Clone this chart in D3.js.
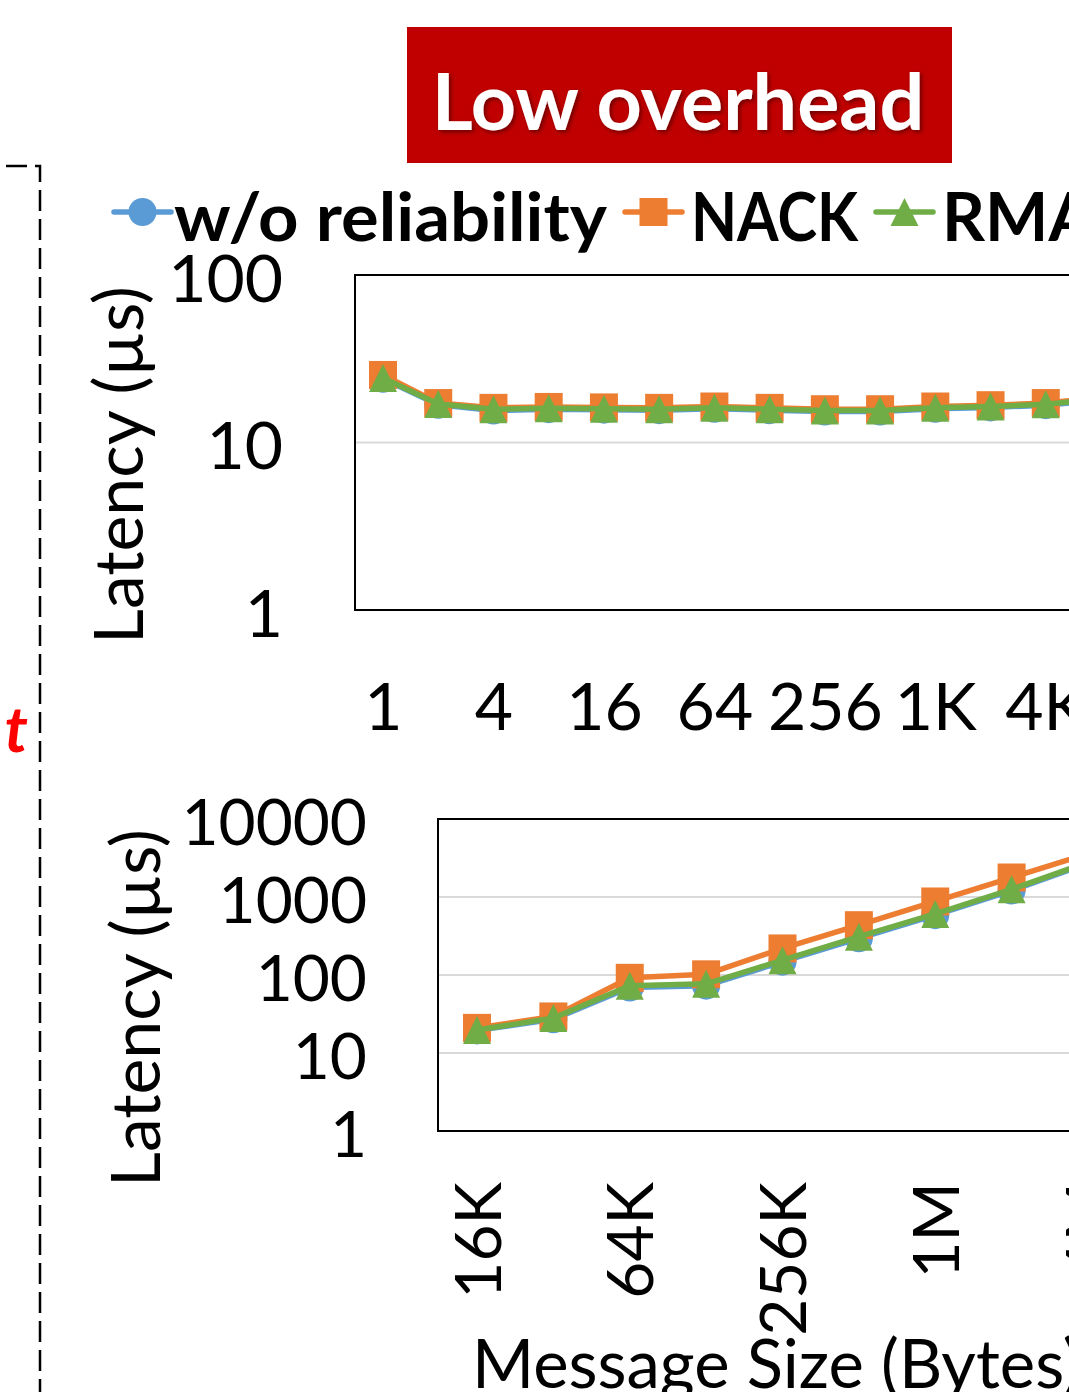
<!DOCTYPE html>
<html>
<head>
<meta charset="utf-8">
<script src="https://cdn.jsdelivr.net/npm/d3@7"></script>
<style>
  body { margin: 0; overflow: hidden; background: #fff; }
  svg { display: block; }
  text { font-family: Lato, "Open Sans", sans-serif; }
</style>
</head>
<body>
<svg id="chart" width="1069" height="1392"></svg>
<script>
// ---- data ----
const seriesNames = ["w/o reliability", "NACK", "RMA"];
const seriesColors = ["#5B9BD5", "#ED7D31", "#70AD47"];

// small messages (top panel)
const smallSizes = ["1", "2", "4", "8", "16", "32", "64", "128", "256", "512", "1K", "2K", "4K", "8K"];
const smallNoRel = [24.0, 16.8, 15.5, 15.8, 15.7, 15.6, 15.9, 15.6, 15.3, 15.3, 15.9, 16.2, 16.7, 18.0];
const smallNack  = [25.3, 17.2, 16.1, 16.3, 16.2, 16.1, 16.4, 16.1, 15.8, 15.8, 16.4, 16.7, 17.2, 18.6];
const smallRma   = [24.3, 17.0, 15.8, 16.0, 15.9, 15.8, 16.1, 15.8, 15.5, 15.5, 16.1, 16.4, 16.9, 18.3];
const smallTicks = [1, 10, 100];

// large messages (bottom panel)
const largeSizes = ["16K", "32K", "64K", "128K", "256K", "512K", "1M", "2M", "4M"];
const largeNoRel = [19.5, 27, 69, 73, 148, 295, 585, 1210, 2700];
const largeNack  = [21, 29.4, 92, 102, 219, 435, 876, 1778, 3600];
const largeRma   = [19.7, 28, 73, 77, 155, 310, 606, 1256, 2790];
const largeTicks = [1, 10, 100, 1000, 10000];

const svg = d3.select("#chart");

// drop shadow for the title text
const defs = svg.append("defs");
defs.append("filter").attr("id", "shadow")
    .attr("x", "-10%").attr("y", "-10%").attr("width", "120%").attr("height", "130%")
  .append("feDropShadow")
    .attr("dx", 2).attr("dy", 2).attr("stdDeviation", 2)
    .attr("flood-color", "#000").attr("flood-opacity", 0.45);

// dashed frame on the left
svg.append("path")
    .attr("d", "M-200,166 L40,166 L40,1420")
    .attr("fill", "none")
    .attr("stroke", "#000")
    .attr("stroke-width", 2.5)
    .attr("stroke-dasharray", "21,8")
    .attr("stroke-dashoffset", 26);

svg.append("text")
    .attr("x", 28).attr("y", 752)
    .attr("text-anchor", "end")
    .attr("fill", "#ff0000")
    .attr("font-size", 64)
    .attr("font-weight", "bold")
    .attr("font-style", "italic")
    .text("t");

// title box
svg.append("rect")
    .attr("x", 407).attr("y", 27).attr("width", 545).attr("height", 136)
    .attr("fill", "#C00000");
svg.append("text")
    .attr("x", 678).attr("y", 130)
    .attr("text-anchor", "middle")
    .attr("fill", "#fff")
    .attr("font-size", 79)
    .attr("font-weight", "bold")
    .attr("filter", "url(#shadow)")
    .text("Low overhead");

// legend
const legendX = [114, 625, 876];
const legendTextW = [433, 167, 160];
const legendY = 212;

function marker(sel, kind, color) {
  if (kind === 0) {
    sel.append("circle").attr("r", 14).attr("fill", color);
  } else if (kind === 1) {
    sel.append("rect").attr("x", -14).attr("y", -14).attr("width", 28).attr("height", 28).attr("fill", color);
  } else {
    sel.append("path").attr("d", "M0,-14L14,14L-14,14Z").attr("fill", color);
  }
}

seriesNames.forEach(function (name, i) {
  const g = svg.append("g").attr("transform", "translate(" + legendX[i] + "," + legendY + ")");
  g.append("line")
      .attr("x1", 0).attr("x2", 57)
      .attr("stroke", seriesColors[i])
      .attr("stroke-width", 5.5)
      .attr("stroke-linecap", "round");
  marker(g.append("g").attr("transform", "translate(28.5,0)"), i, seriesColors[i]);
  const t = g.append("text")
      .attr("x", i === 0 ? 60 : 66).attr("y", 29)
      .attr("font-size", 67)
      .attr("font-weight", "bold")
      .attr("fill", "#000")
      .text(name);
  if (i < 2) t.attr("textLength", legendTextW[i]).attr("lengthAdjust", "spacingAndGlyphs");
});

function drawPanel(cfg) {
  const g = svg.append("g");
  const x = d3.scalePoint().domain(cfg.sizes).range(cfg.xRange);
  const y = d3.scaleLog().domain(cfg.yDomain).range([cfg.bottom, cfg.top]);

  // gridlines
  g.append("g").selectAll("line")
    .data(cfg.ticks.filter(t => t > cfg.yDomain[0] && t < cfg.yDomain[1]))
    .join("line")
      .attr("x1", cfg.left).attr("x2", 1300)
      .attr("y1", d => y(d)).attr("y2", d => y(d))
      .attr("stroke", "#d9d9d9")
      .attr("stroke-width", 2);

  // plot frame
  g.append("rect")
      .attr("x", cfg.left).attr("y", cfg.top)
      .attr("width", 1300).attr("height", cfg.bottom - cfg.top)
      .attr("fill", "none")
      .attr("stroke", "#000")
      .attr("stroke-width", 2);

  // y axis labels
  const yAxis = g.append("g")
      .attr("transform", "translate(" + cfg.left + ",0)")
      .call(d3.axisLeft(y).tickValues(cfg.ticks).tickFormat(d3.format("d")).tickSize(0).tickPadding(cfg.yPad));
  yAxis.select(".domain").remove();
  yAxis.selectAll("text")
      .attr("dy", "0.4em")
      .attr("fill", "#000")
      .style("font-family", "Lato, sans-serif")
      .style("font-size", cfg.yFont + "px");

  // x axis labels (every other category)
  const xTicks = cfg.sizes.filter((d, i) => i % 2 === 0);
  const xAxis = g.append("g")
      .attr("transform", "translate(0," + cfg.xLabelY + ")")
      .call(d3.axisBottom(x).tickValues(xTicks).tickSize(0));
  xAxis.select(".domain").remove();
  const xt = xAxis.selectAll("text")
      .attr("fill", "#000")
      .style("font-family", "Lato, sans-serif")
      .style("font-size", cfg.xFont + "px");
  if (cfg.rotate) {
    xt.attr("x", 0).attr("y", 0).attr("dy", "0.36em")
      .attr("transform", "rotate(-90)")
      .attr("text-anchor", "end");
  } else {
    xt.attr("y", 0).attr("dy", 0);
  }

  // y title
  g.append("text")
      .attr("transform", "translate(" + cfg.titleX + "," + cfg.titleY + ") rotate(-90)")
      .attr("text-anchor", "middle")
      .attr("font-size", cfg.titleFont)
      .attr("fill", "#000")
      .text("Latency (µs)");

  // series, blue underneath, green on top
  const line = d3.line().x((d, i) => x(cfg.sizes[i])).y(d => y(d));
  cfg.series.forEach(function (vals, k) {
    const s = g.append("g");
    s.append("path")
        .attr("d", line(vals))
        .attr("fill", "none")
        .attr("stroke", seriesColors[k])
        .attr("stroke-width", 5.5)
        .attr("stroke-linejoin", "round");
    s.selectAll("g.mk")
      .data(vals)
      .join("g")
        .attr("class", "mk")
        .attr("transform", (d, i) => "translate(" + x(cfg.sizes[i]) + "," + y(d) + ")")
        .each(function () { marker(d3.select(this), k, seriesColors[k]); });
  });
}

drawPanel({
  sizes: smallSizes,
  series: [smallNoRel, smallNack, smallRma],
  ticks: smallTicks,
  yDomain: [1, 100],
  left: 355, top: 275, bottom: 610,
  xRange: [383, 1101],
  yPad: 72, yFont: 66,
  xLabelY: 730, xFont: 66, rotate: false,
  titleX: 143, titleY: 465, titleFont: 68
});

drawPanel({
  sizes: largeSizes,
  series: [largeNoRel, largeNack, largeRma],
  ticks: largeTicks,
  yDomain: [1, 10000],
  left: 438, top: 819, bottom: 1131,
  xRange: [477, 1088],
  yPad: 71, yFont: 64,
  xLabelY: 1182, xFont: 64, rotate: true,
  titleX: 160, titleY: 1008, titleFont: 68
});

svg.append("text")
    .attr("x", 472).attr("y", 1388)
    .attr("font-size", 67)
    .attr("fill", "#000")
    .text("Message Size (Bytes)");
</script>
</body>
</html>
